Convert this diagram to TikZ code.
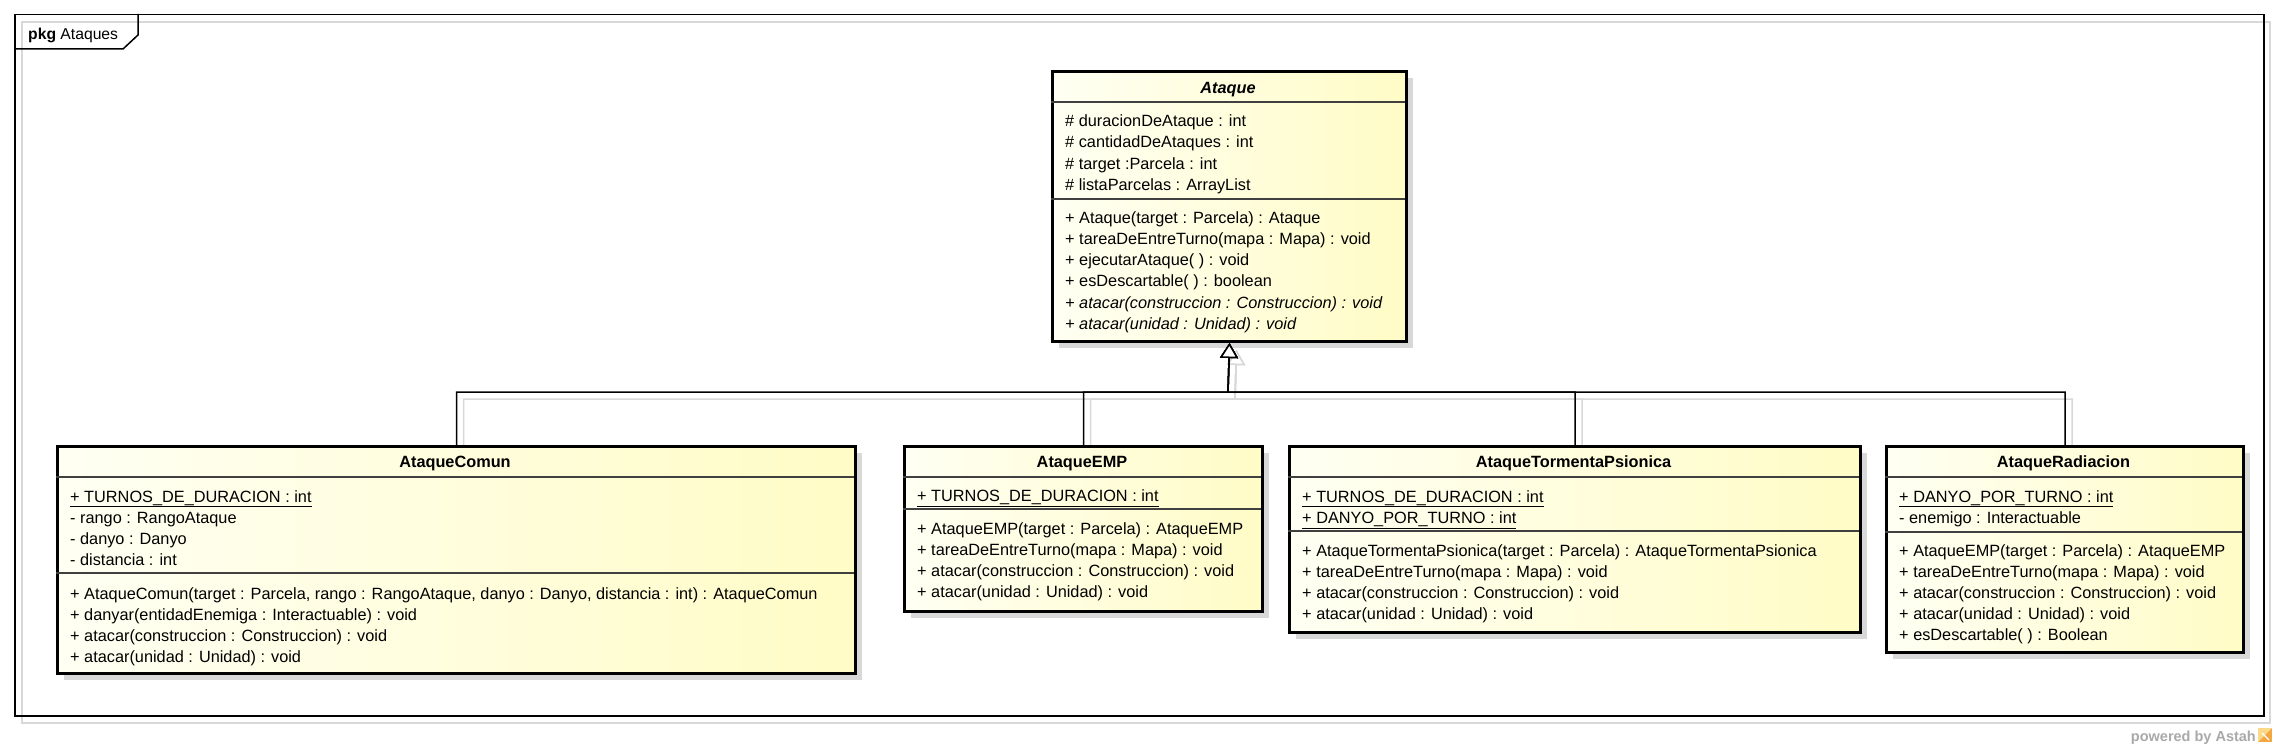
\documentclass[tikz,border=0pt]{standalone}
\usepackage{fontspec}
\setmainfont{Liberation Sans}
\usetikzlibrary{arrows.meta,backgrounds}
\definecolor{fillL}{HTML}{FFFFF3}
\definecolor{fillR}{HTML}{FFFCC6}
\definecolor{shadowc}{HTML}{D8D8D8}
\definecolor{sepc}{HTML}{404040}
\definecolor{brand}{HTML}{A9A9A9}
\definecolor{iconA}{HTML}{F4A640}
\definecolor{iconB}{HTML}{FBD98A}
\newcommand\umlrow[4]{\node[txt] (#1) at (#2,#3) {#4};}
\begin{document}
\begin{tikzpicture}[x=1pt,y=-1pt,
  cls/.style={draw=black, line width=3pt, inner sep=0pt, anchor=north west, left color=fillL, right color=fillR},
  boxshadow/.style={fill=shadowc, draw=none, inner sep=0pt, anchor=north west},
  txt/.style={anchor=base west, inner sep=0pt, font=\fontsize{16.3}{20}\selectfont},
  ttl/.style={anchor=base, inner sep=0pt, font=\fontsize{16.3}{20}\selectfont\bfseries},
  sepline/.style={draw=sepc, line width=1.2pt},
  gen/.style={draw=black, line width=1.5pt, -{Triangle[length=15pt, width=18pt, fill=white]}},
  genshadow/.style={draw=shadowc, line width=1.5pt, -{Triangle[length=15pt, width=18pt, fill=white]}},
]
\useasboundingbox (0,0) rectangle (2277,749);

% ---------- frame ----------
\node[draw=black, line width=1.5pt, inner sep=0pt, anchor=north west,
      minimum width=2249pt, minimum height=701pt] (frame) at (14,14) {};
\draw[line width=1.5pt] (14,49) -- (123,49) -- (138,35) -- (138,14);
\node[anchor=base west, inner sep=0pt, font=\fontsize{15.7}{18}\selectfont] (pkgT) at (28,39.5) {\textbf{pkg} Ataques};

% ---------- classes ----------
\node[cls, minimum width=354pt, minimum height=270pt] (ataque) at (1051,70) {};
\node[cls, minimum width=798pt, minimum height=227pt] (comun) at (56,445) {};
\node[cls, minimum width=358pt, minimum height=165pt] (emp) at (903,445) {};
\node[cls, minimum width=571pt, minimum height=186pt] (torm) at (1288,445) {};
\node[cls, minimum width=357pt, minimum height=206pt] (rad) at (1885,445) {};

% Ataque
\node[ttl, font=\fontsize{16.3}{20}\selectfont\bfseries\itshape] (ataqueT) at (1228,94) {Ataque};
\draw[sepline] (1051,102) -- (1405,102);
\umlrow{a1}{1065}{126.5}{\# duracionDeAtaque : int}
\umlrow{a2}{1065}{147.8}{\# cantidadDeAtaques : int}
\umlrow{a3}{1065}{169.1}{\# target :Parcela : int}
\umlrow{a4}{1065}{190.4}{\# listaParcelas : ArrayList}
\draw[sepline] (1051,199) -- (1405,199);
\umlrow{am1}{1065}{223}{+ Ataque(target : Parcela) : Ataque}
\umlrow{am2}{1065}{244.3}{+ tareaDeEntreTurno(mapa : Mapa) : void}
\umlrow{am3}{1065}{265.6}{+ ejecutarAtaque( ) : void}
\umlrow{am4}{1065}{286.9}{+ esDescartable( ) : boolean}
\umlrow{am5}{1065}{308.2}{\itshape + atacar(construccion : Construccion) : void}
\umlrow{am6}{1065}{329.5}{\itshape + atacar(unidad : Unidad) : void}

% AtaqueComun
\node[ttl] (comunT) at (455,467) {AtaqueComun};
\draw[sepline] (56,477) -- (854,477);
\umlrow{c1}{70}{502}{\underline{+ TURNOS\_DE\_DURACION : int}}
\umlrow{c2}{70}{523.2}{- rango : RangoAtaque}
\umlrow{c3}{70}{544.4}{- danyo : Danyo}
\umlrow{c4}{70}{565.6}{- distancia : int}
\draw[sepline] (56,573) -- (854,573);
\umlrow{cm1}{70}{599}{+ AtaqueComun(target : Parcela, rango : RangoAtaque, danyo : Danyo, distancia : int) : AtaqueComun}
\umlrow{cm2}{70}{620.2}{+ danyar(entidadEnemiga : Interactuable) : void}
\umlrow{cm3}{70}{641.4}{+ atacar(construccion : Construccion) : void}
\umlrow{cm4}{70}{662.6}{+ atacar(unidad : Unidad) : void}

% AtaqueEMP
\node[ttl] (empT) at (1082,467) {AtaqueEMP};
\draw[sepline] (903,477) -- (1261,477);
\umlrow{e1}{917}{501.5}{\underline{+ TURNOS\_DE\_DURACION : int}}
\draw[sepline] (903,509) -- (1261,509);
\umlrow{em1}{917}{534}{+ AtaqueEMP(target : Parcela) : AtaqueEMP}
\umlrow{em2}{917}{555.3}{+ tareaDeEntreTurno(mapa : Mapa) : void}
\umlrow{em3}{917}{576.6}{+ atacar(construccion : Construccion) : void}
\umlrow{em4}{917}{597.9}{+ atacar(unidad : Unidad) : void}

% AtaqueTormentaPsionica
\node[ttl] (tormT) at (1573.5,467) {AtaqueTormentaPsionica};
\draw[sepline] (1288,477) -- (1859,477);
\umlrow{t1}{1302}{502}{\underline{+ TURNOS\_DE\_DURACION : int}}
\umlrow{t2}{1302}{523.2}{\underline{+ DANYO\_POR\_TURNO : int}}
\draw[sepline] (1288,531) -- (1859,531);
\umlrow{tm1}{1302}{556}{+ AtaqueTormentaPsionica(target : Parcela) : AtaqueTormentaPsionica}
\umlrow{tm2}{1302}{577.2}{+ tareaDeEntreTurno(mapa : Mapa) : void}
\umlrow{tm3}{1302}{598.4}{+ atacar(construccion : Construccion) : void}
\umlrow{tm4}{1302}{619.6}{+ atacar(unidad : Unidad) : void}

% AtaqueRadiacion
\node[ttl] (radT) at (2063.5,467) {AtaqueRadiacion};
\draw[sepline] (1885,477) -- (2242,477);
\umlrow{r1}{1899}{502}{\underline{+ DANYO\_POR\_TURNO : int}}
\umlrow{r2}{1899}{523.2}{- enemigo : Interactuable}
\draw[sepline] (1885,532) -- (2242,532);
\umlrow{rm1}{1899}{556}{+ AtaqueEMP(target : Parcela) : AtaqueEMP}
\umlrow{rm2}{1899}{577.2}{+ tareaDeEntreTurno(mapa : Mapa) : void}
\umlrow{rm3}{1899}{598.4}{+ atacar(construccion : Construccion) : void}
\umlrow{rm4}{1899}{619.6}{+ atacar(unidad : Unidad) : void}
\umlrow{rm5}{1899}{640.8}{+ esDescartable( ) : Boolean}

% ---------- generalizations ----------
\coordinate (j) at (1228,392);
\draw[gen] (comun.north) |- (j) -- (ataque.south);
\draw[gen] (emp.north) |- (j) -- (ataque.south);
\draw[gen] (torm.north) |- (j) -- (ataque.south);
\draw[gen] (rad.north) |- (j) -- (ataque.south);

% ---------- shadows & background ----------
\begin{scope}[on background layer]
  \fill[white] (0,0) rectangle (2277,749);
  \draw[shadowc, line width=1.5pt] (22,22) rectangle (2270,723);
  \node[boxshadow, minimum width=354pt, minimum height=270pt] (ataqueS) at (1059,78) {};
  \node[boxshadow, minimum width=798pt, minimum height=227pt] (comunS) at (64,453) {};
  \node[boxshadow, minimum width=358pt, minimum height=165pt] (empS) at (911,453) {};
  \node[boxshadow, minimum width=571pt, minimum height=186pt] (tormS) at (1296,453) {};
  \node[boxshadow, minimum width=357pt, minimum height=206pt] (radS) at (1893,453) {};
  \begin{scope}[transform canvas={shift={(7pt,-7pt)}}]
    \draw[genshadow] (comun.north) |- (j) -- (ataque.south);
    \draw[genshadow] (emp.north) |- (j) -- (ataque.south);
    \draw[genshadow] (torm.north) |- (j) -- (ataque.south);
    \draw[genshadow] (rad.north) |- (j) -- (ataque.south);
  \end{scope}
\end{scope}

% ---------- branding ----------
\node[anchor=base east, inner sep=0pt, text=brand, font=\fontsize{14.5}{16}\selectfont\bfseries] (brandT) at (2256,741) {powered by Astah};
\fill[iconA] (2258,728) rectangle (2272,742);
\fill[iconB] (2258,728) -- (2272,728) -- (2258,742) -- cycle;
\draw[white, line width=1.2pt] (2262,733) -- (2269,740);
\end{tikzpicture}
\end{document}
